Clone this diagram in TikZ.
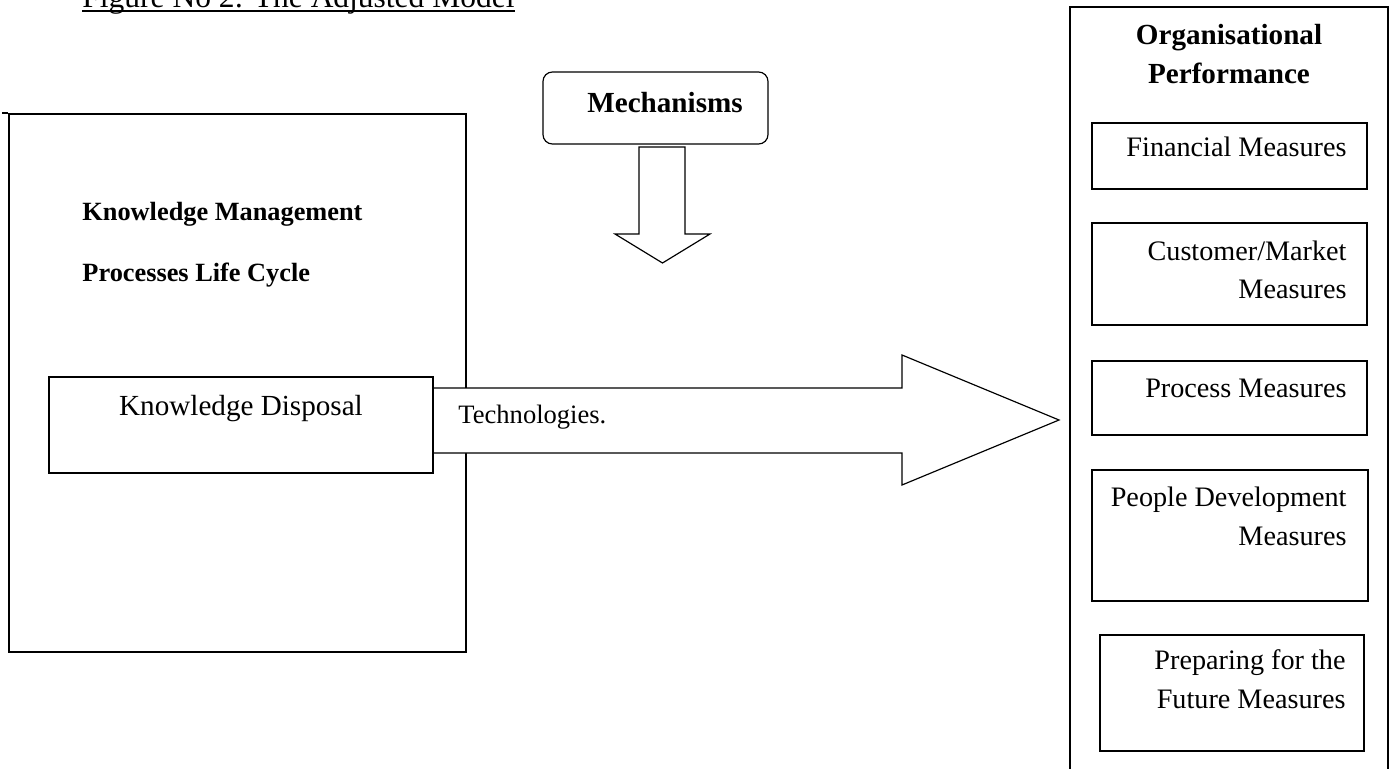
\documentclass[tikz,border=0pt]{standalone}
\usepackage{fontspec}
\setmainfont{Liberation Serif}
\usepackage{tikz}
\usetikzlibrary{fit,calc}
\tikzstyle{box_n} = [rectangle, draw=black, line width=0.5pt, inner sep=0pt]
\tikzstyle{box_k} = [box_n, line width=0.7pt]
\tikzstyle{box_r} = [box_n, rounded corners=4pt]
\tikzstyle{arr_b} = [draw=black, fill=white, line width=0.5pt, line join=miter]
\tikzstyle{txt_m} = [inner sep=0pt, align=right, font=\fontsize{12}{16.2}\selectfont]
\tikzstyle{txt_b} = [inner sep=0pt, align=center, font=\bfseries\fontsize{12.4}{16.6}\selectfont]

\begin{document}
\begin{tikzpicture}[x=0.4255pt, y=-0.4255pt]
\useasboundingbox (0,0) rectangle (1394,769);
% title
\node [anchor=base west, inner sep=0pt, font=\fontsize{13.4}{16}\selectfont] (title) at (82,8) {Figure No 2: The Adjusted Model};
\draw [line width=0.55pt] ($(title.base west)+(0,3)$) -- ($(title.base east)+(0,3)$);

% left block
\node [box_k, fit={(9,114) (466,652)}] (kmbox) {};
\draw [line width=0.7pt] (kmbox.north west) -- ++(-6,0);
\node [txt_b, anchor=base west, font=\bfseries\fontsize{11.2}{13}\selectfont] (kmname) at (82,221) {Knowledge Management};
\node [txt_b, anchor=base west, font=\bfseries\fontsize{11.2}{13}\selectfont] (kmcycle) at (82,282) {Processes Life Cycle};

% mechanisms
\node [box_r, fit={(543,72) (768,144)}] (mech) {};
\node [txt_b, anchor=base] (mechtxt) at (665,113) {Mechanisms};
\coordinate (mtip) at (662.5,263);
\draw [arr_b] (639,147) -- (685,147) -- (685,234) -- (710,234) -- (mtip) -- (615,234) -- (639,234) -- cycle;

% technologies arrow
\node [box_n, fit={(49,377) (433,473)}] (kdbox) {};
\coordinate (tip) at (1059,420);
\draw [arr_b] ($(kdbox.east)+(0,-37)$) -- (902,388) -- (902,355) -- (tip) -- (902,485) -- (902,453) -- ($(kdbox.east)+(0,28)$);
\draw [line width=0.5pt] (kdbox.north east) -- (kdbox.south east);
\node [anchor=base, inner sep=0pt, font=\fontsize{12.4}{15}\selectfont] (kdtxt) at (241,415) {Knowledge Disposal};
\node [anchor=base west, inner sep=0pt, font=\fontsize{11.3}{14}\selectfont] (techtxt) at (458,423) {Technologies.};

% performance side
\node [box_n, fit={(1070,7) (1388,790)}] (perf) {};
\node [txt_b, anchor=base] (perftxt) at (1229,84) {Organisational\\Performance};
\node [box_n, fit={(1092,123) (1367,189)}] (fin) {};
\node [txt_m, anchor=base east] (fintxt) at (1347,157) {Financial Measures};
\node [box_n, fit={(1092,223) (1367,325)}] (cust) {};
\node [txt_m, anchor=base east] (custtxt) at (1347,299) {Customer/Market\\Measures};
\node [box_n, fit={(1092,361) (1367,435)}] (proc) {};
\node [txt_m, anchor=base east] (proctxt) at (1347,397) {Process Measures};
\node [box_n, fit={(1092,470) (1368,601)}] (ppl) {};
\node [txt_m, anchor=base east] (ppltxt) at (1347,545) {People Development\\Measures};
\node [box_n, fit={(1100,635) (1364,751)}] (prep) {};
\node [txt_m, anchor=base east] (preptxt) at (1346,708) {Preparing for the\\Future Measures};
\end{tikzpicture}
\end{document}
